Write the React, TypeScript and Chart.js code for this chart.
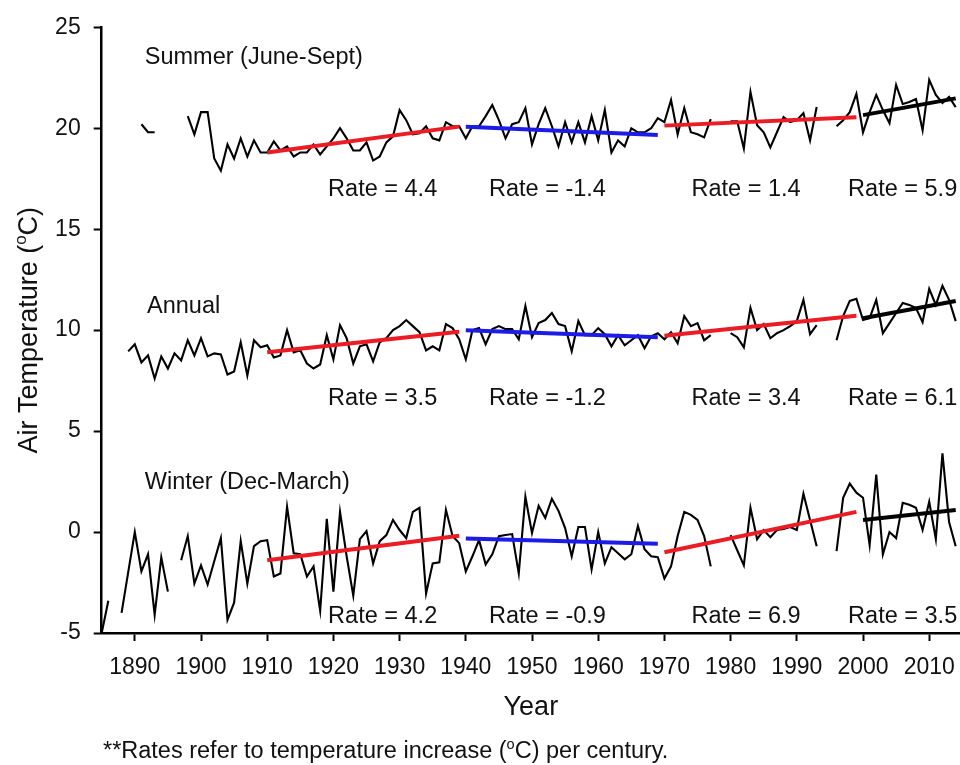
import React, { useEffect, useRef } from "react";
import { Chart, registerables } from "chart.js";

Chart.register(...registerables);

const FONT = "'Liberation Sans', Arial, Helvetica, sans-serif";

// ---- data ----
const firstYear = 1885;

const summer = [
  null, null, null, null, null, null, 20.2, 19.8, 19.8, null,
  null, null, null, 20.6, 19.7, 20.8, 20.8, 18.5, 17.9, 19.2,
  18.5, 19.5, 18.6, 19.4, 18.8, 18.8, 19.35, 18.9, 19.1, 18.6,
  18.8, 18.8, 19.2, 18.7, 19.1, 19.5, 20.0, 19.5, 18.9, 18.9,
  19.3, 18.4, 18.6, 19.3, 19.6, 20.9, 20.4, 19.7, 19.75, 20.1,
  19.5, 19.4, 20.3, 20.1, 20.1, 19.5, 20.1, 20.1, 20.6, 21.15,
  20.4, 19.5, 20.2, 20.3, 21.0, 19.2, 20.2, 21.0, 20.1, 19.1,
  20.3, 19.3, 20.3, 19.3, 20.6, 19.4, 20.9, 18.8, 19.4, 19.1,
  20.0, 19.8, 19.8, 20.0, 20.5, 20.3, 21.4, 19.7, 21.0, 19.8,
  19.7, 19.55, 20.45, null, null, 20.35, 20.35, 19.0, 21.8, 20.15,
  19.8, 19.05, 19.8, 20.55, 20.3, 20.4, 20.75, 19.4, 21.05, null,
  null, 20.1, 20.4, 20.8, 21.7, 19.8, 20.8, 21.65, 20.9, 20.25,
  22.15, 21.2, 21.3, 21.45, 19.9, 22.4, 21.65, 21.25, 21.55, 21.05,
];

const annual = [
  null, null, null, null, 8.95, 9.3, 8.4, 8.75, 7.6, 8.7,
  8.1, 8.85, 8.5, 9.5, 8.75, 9.6, 8.7, 8.85, 8.8, 7.8,
  7.95, 9.4, 7.75, 9.5, 9.15, 9.25, 8.65, 8.75, 10.0, 8.9,
  9.0, 8.35, 8.1, 8.3, 9.75, 8.55, 10.25, 9.6, 8.35, 9.2,
  9.3, 8.45, 9.4, 9.6, 10.0, 10.2, 10.5, 10.2, 9.9, 9.0,
  9.2, 9.0, 10.3, 10.1, 9.55, 8.55, 10.0, 10.1, 9.3, 10.05,
  10.2, 10.05, 10.05, 9.55, 11.2, 9.65, 10.35, 10.5, 10.85, 10.3,
  10.2, 8.95, 10.45, 9.75, 9.75, 10.1, 9.8, 9.2, 9.75, 9.25,
  9.5, 9.75, 9.1, 9.7, 9.85, 9.55, 9.9, 9.35, 10.7, 10.2,
  10.35, 9.5, 9.75, null, null, 9.85, 9.65, 9.15, 11.1, 10.0,
  10.3, 9.6, 9.85, 10.0, 10.2, 10.45, 11.5, 9.8, 10.25, null,
  null, 9.5, 10.7, 11.45, 11.55, 10.5, 10.6, 11.5, 9.85, 10.35,
  10.85, 11.35, 11.25, 11.1, 10.4, 12.05, 11.25, 12.2, 11.5, 10.45,
];

const winter = [
  -5.0, -3.4, null, -4.0, -2.0, 0.0, -1.95, -1.1, -4.1, -1.25,
  -2.95, null, -1.4, -0.2, -2.55, -1.65, -2.6, -1.45, -0.3, -4.35,
  -3.5, -0.45, -2.55, -0.7, -0.45, -0.4, -2.2, -2.05, 1.25, -1.05,
  -1.1, -2.2, -1.7, -3.9, 0.65, -2.95, 1.0, -1.2, -3.15, -0.35,
  0.05, -1.55, -0.45, -0.15, 0.6, 0.1, -0.3, 1.0, 1.2, -3.05,
  -1.55, -1.5, 1.1, -0.2, -0.55, -1.95, -1.2, -0.4, -1.6, -1.1,
  -0.2, -0.15, -0.1, -2.05, 1.75, -0.05, 1.3, 0.7, 1.65, 1.05,
  0.2, -1.2, 0.25, 0.25, -1.85, 0.0, -1.55, -0.75, -1.05, -1.35,
  -1.1, 0.3, -0.85, -1.2, -1.25, -2.3, -1.7, -0.2, 1.0, 0.85,
  0.6, -0.2, -1.7, null, null, -0.15, -0.9, -1.65, 1.2, -0.35,
  0.1, -0.25, 0.1, 0.15, 0.25, 0.1, 1.9, 0.6, -0.7, null,
  null, -0.95, 1.7, 2.4, 1.95, 1.7, -0.65, 2.85, -1.1, 0.0,
  -0.3, 1.45, 1.35, 1.2, 0.1, 1.5, -0.35, 3.9, 0.5, -0.7,
];

// trend segments
const trendStartYears = [1910, 1940, 1970, 2000];
const trendEndYears = [1939, 1969, 1999, 2014];
const trendColors = ["#ec1c24", "#1c1ce6", "#ec1c24", "#000000"];
const summerTrendStart = [18.8, 20.08, 20.13, 20.65];
const summerTrendEnd = [20.08, 19.67, 20.54, 21.48];
const annualTrendStart = [8.9, 10.0, 9.72, 10.59];
const annualTrendEnd = [9.92, 9.65, 10.71, 11.44];
const winterTrendStart = [-1.4, -0.32, -1.0, 0.6];
const winterTrendEnd = [-0.18, -0.58, 1.0, 1.09];

const summerRates = ["4.4", "-1.4", "1.4", "5.9"];
const annualRates = ["3.5", "-1.2", "3.4", "6.1"];
const winterRates = ["4.2", "-0.9", "6.9", "3.5"];

const seriesNames = ["Summer (June-Sept)", "Annual", "Winter (Dec-March)"];

const xTickYears = [1890, 1900, 1910, 1920, 1930, 1940, 1950, 1960, 1970, 1980, 1990, 2000, 2010];

const yTitleParts = ["Air Temperature (", "o", "C)"];

// label placement (in data units)
const nameLabelX = [1891.5, 1891.85, 1891.5];
const nameLabelY = [23.18, 10.84, 2.13];
const rateLabelX = [1919.2, 1943.5, 1974.1, 1997.75];
const rateRowY = [16.65, 6.3, -4.5];

function toPoints(values: (number | null)[]) {
  return values.map((v, i) => ({ x: firstYear + i, y: v }));
}

export default function App() {
  const canvasRef = useRef<HTMLCanvasElement | null>(null);

  useEffect(() => {
    const canvas = canvasRef.current;
    if (!canvas) return;

    const trendSets: any[] = [];
    const groups = [
      [summerTrendStart, summerTrendEnd],
      [annualTrendStart, annualTrendEnd],
      [winterTrendStart, winterTrendEnd],
    ];
    groups.forEach(([starts, ends]) => {
      trendStartYears.forEach((sy, k) => {
        trendSets.push({
          data: [
            { x: sy, y: starts[k] },
            { x: trendEndYears[k], y: ends[k] },
          ],
          borderColor: trendColors[k],
          borderWidth: 4,
          pointRadius: 0,
          tension: 0,
          borderCapStyle: "butt",
        });
      });
    });

    const dataSets = [summer, annual, winter].map((vals) => ({
      data: toPoints(vals),
      borderColor: "#000",
      borderWidth: 2.1,
      pointRadius: 0,
      tension: 0,
      spanGaps: false,
      borderJoinStyle: "miter",
    }));

    const rateRows = [summerRates, annualRates, winterRates];

    const annotationPlugin = {
      id: "annotations",
      afterDatasetsDraw(chart: any) {
        const { ctx, scales, chartArea } = chart;
        const xs = scales.x;
        const ys = scales.y;
        ctx.save();
        ctx.font = `23.5px ${FONT}`;
        ctx.fillStyle = "#111";
        ctx.textAlign = "left";
        ctx.textBaseline = "alphabetic";
        seriesNames.forEach((name, i) => {
          ctx.fillText(name, xs.getPixelForValue(nameLabelX[i]), ys.getPixelForValue(nameLabelY[i]));
        });
        rateRows.forEach((row, r) => {
          row.forEach((rate, c) => {
            ctx.fillText(
              `Rate = ${rate}`,
              xs.getPixelForValue(rateLabelX[c]),
              ys.getPixelForValue(rateRowY[r])
            );
          });
        });
        ctx.restore();

        // y-axis title with superscript
        ctx.save();
        const mainFont = `27px ${FONT}`;
        const supFont = `17px ${FONT}`;
        ctx.font = mainFont;
        const w0 = ctx.measureText(yTitleParts[0]).width;
        const w2 = ctx.measureText(yTitleParts[2]).width;
        ctx.font = supFont;
        const w1 = ctx.measureText(yTitleParts[1]).width;
        const total = w0 + w1 + w2;
        const cy = (chartArea.top + chartArea.bottom) / 2;
        ctx.translate(37, cy);
        ctx.rotate(-Math.PI / 2);
        ctx.fillStyle = "#111";
        ctx.textAlign = "left";
        ctx.textBaseline = "alphabetic";
        let px = -total / 2;
        ctx.font = mainFont;
        ctx.fillText(yTitleParts[0], px, 0);
        px += w0;
        ctx.font = supFont;
        ctx.fillText(yTitleParts[1], px, -11);
        px += w1;
        ctx.font = mainFont;
        ctx.fillText(yTitleParts[2], px, 0);
        ctx.restore();
      },
    };

    const gridOpts = {
      display: true,
      drawOnChartArea: false,
      drawTicks: true,
      tickLength: 8,
      tickWidth: 2,
      tickColor: "#000",
    };

    const chart = new Chart(canvas, {
      type: "line",
      data: { datasets: [...trendSets, ...dataSets] as any },
      options: {
        animation: false,
        responsive: false,
        devicePixelRatio: 1,
        layout: { padding: { left: 0, right: 0, top: 27.3, bottom: 40.8 } },
        plugins: {
          legend: { display: false },
          tooltip: { enabled: false },
        },
        scales: {
          x: {
            type: "linear",
            min: 1885,
            max: 2014.65,
            afterBuildTicks: (s: any) => {
              s.ticks = xTickYears.map((v) => ({ value: v }));
            },
            afterFit: (s: any) => {
              s.height = 91.2;
              s.paddingLeft = 0;
              s.paddingRight = 0;
            },
            grid: gridOpts as any,
            border: { display: true, color: "#000", width: 2.5 },
            ticks: {
              font: { family: FONT, size: 23 },
              color: "#111",
              padding: 13,
              maxRotation: 0,
              autoSkip: false,
              callback: (v: any) => String(v),
            },
            title: {
              display: true,
              text: "Year",
              font: { family: FONT, size: 27 },
              color: "#111",
              padding: { top: 0, bottom: 0 },
            },
          },
          y: {
            min: -5,
            max: 25,
            afterFit: (s: any) => {
              s.width = 101.7;
              s.paddingTop = 0;
              s.paddingBottom = 0;
            },
            grid: gridOpts as any,
            border: { display: true, color: "#000", width: 2.5 },
            ticks: {
              stepSize: 5,
              font: { family: FONT, size: 23 },
              color: "#111",
              padding: 13,
            },
            title: { display: false, text: "Air Temperature (°C)" },
          },
        },
      },
      plugins: [annotationPlugin],
    });

    return () => chart.destroy();
  }, []);

  return (
    <div style={{ position: "absolute", left: 0, top: 0, width: 960, height: 765, background: "#fff" }}>
      <canvas ref={canvasRef} width={960} height={765} style={{ display: "block", width: 960, height: 765 }} />
      <div
        style={{
          position: "absolute",
          left: 103,
          top: 739,
          fontFamily: FONT,
          fontSize: 23.5,
          lineHeight: 1,
          color: "#111",
          whiteSpace: "nowrap",
        }}
      >
        **Rates refer to temperature increase (<sup style={{ fontSize: "0.62em", lineHeight: 0 }}>o</sup>C) per century.
      </div>
    </div>
  );
}
